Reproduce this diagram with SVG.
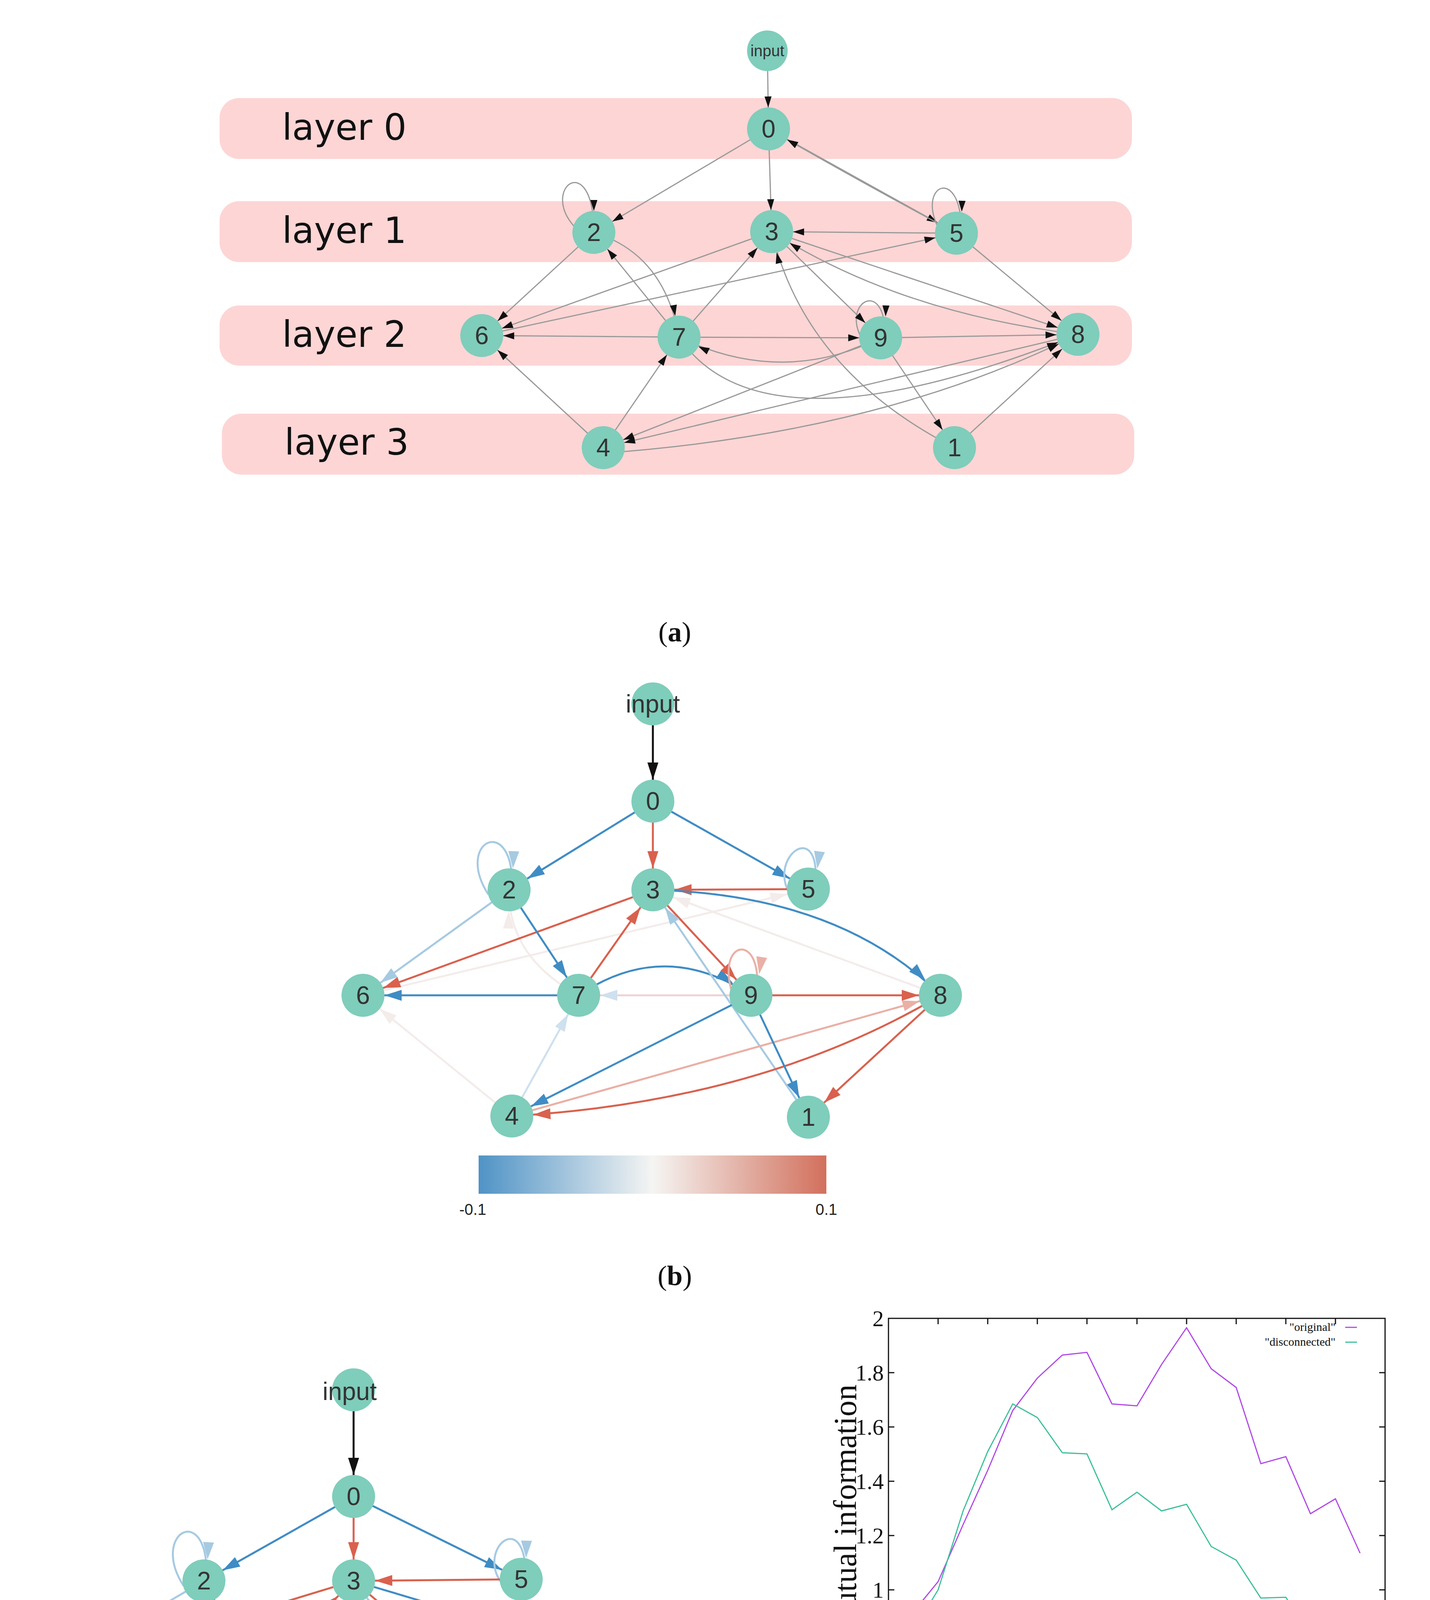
<svg xmlns="http://www.w3.org/2000/svg" width="3660" height="5092" viewBox="0 0 3660 5092">
<style>
.band{fill:#fdd5d5}
.lay{font-family:"DejaVu Sans",sans-serif;font-size:92px;fill:#111}
.nd{fill:#7fcdbb}
.nt{font-family:"Liberation Sans",Arial,sans-serif;font-size:64px;fill:#333;text-anchor:middle;dominant-baseline:central}
.ea{fill:none;stroke:#999;stroke-width:3;marker-end:url(#ka)}
.e{fill:none;stroke-width:5}
.DB{stroke:#3f8cc4;marker-end:url(#mDB)}
.LB{stroke:#a6cae2;marker-end:url(#mLB)}
.VLB{stroke:#cfe0ee;marker-end:url(#mVLB)}
.R{stroke:#d9614e;marker-end:url(#mR)}
.LR{stroke:#eab0a6;marker-end:url(#mLR)}
.F{stroke:#f3ecea;marker-end:url(#mF)}
.K{stroke:#111;marker-end:url(#mK)}
.cap{font-family:"Liberation Serif",serif;font-size:72px;text-anchor:middle;fill:#111}
.sr{font-family:"Liberation Serif",serif;fill:#111}
.cb{font-family:"Liberation Sans",Arial,sans-serif;font-size:40px;text-anchor:middle;fill:#222}
.sc{font-family:"DejaVu Sans",sans-serif;font-size:115px;fill:#000;text-anchor:middle;dominant-baseline:central}
</style>
<defs>
<marker id="ka" markerUnits="userSpaceOnUse" markerWidth="90" markerHeight="20" refX="83" refY="9" orient="auto" overflow="visible"><path d="M0,0L28,9L0,18z" fill="#111"/></marker>
<marker id="mDB" markerUnits="userSpaceOnUse" markerWidth="100" markerHeight="30" refX="99" refY="14" orient="auto" overflow="visible"><path d="M0,0L44,14L0,28z" fill="#3f8cc4"/></marker>
<marker id="mLB" markerUnits="userSpaceOnUse" markerWidth="100" markerHeight="30" refX="99" refY="14" orient="auto" overflow="visible"><path d="M0,0L44,14L0,28z" fill="#a6cae2"/></marker>
<marker id="mVLB" markerUnits="userSpaceOnUse" markerWidth="100" markerHeight="30" refX="99" refY="14" orient="auto" overflow="visible"><path d="M0,0L44,14L0,28z" fill="#cfe0ee"/></marker>
<marker id="mR" markerUnits="userSpaceOnUse" markerWidth="100" markerHeight="30" refX="99" refY="14" orient="auto" overflow="visible"><path d="M0,0L44,14L0,28z" fill="#d9614e"/></marker>
<marker id="mLR" markerUnits="userSpaceOnUse" markerWidth="100" markerHeight="30" refX="99" refY="14" orient="auto" overflow="visible"><path d="M0,0L44,14L0,28z" fill="#eab0a6"/></marker>
<marker id="mF" markerUnits="userSpaceOnUse" markerWidth="100" markerHeight="30" refX="99" refY="14" orient="auto" overflow="visible"><path d="M0,0L44,14L0,28z" fill="#f3ecea"/></marker>
<marker id="mK" markerUnits="userSpaceOnUse" markerWidth="100" markerHeight="30" refX="99" refY="14" orient="auto" overflow="visible"><path d="M0,0L44,14L0,28z" fill="#111"/></marker>
<linearGradient id="cg" x1="0" x2="1" y1="0" y2="0"><stop offset="0" stop-color="#4f93c6"/><stop offset="0.5" stop-color="#f5f5f3"/><stop offset="1" stop-color="#d2705c"/></linearGradient>
</defs>

<g id="bands">
<rect class="band" x="562" y="251" width="2335" height="156" rx="50"/>
<rect class="band" x="562" y="515" width="2335" height="156" rx="50"/>
<rect class="band" x="562" y="782" width="2335" height="154" rx="50"/>
<rect class="band" x="568" y="1059" width="2335" height="156" rx="50"/>
<text class="lay" x="722" y="358">layer 0</text>
<text class="lay" x="722" y="622">layer 1</text>
<text class="lay" x="722" y="888">layer 2</text>
<text class="lay" x="728" y="1164">layer 3</text>
</g>

<g id="connectors">
<g id="conn-a">
<path class="ea" d="M1964,130L1967,330"/>
<path class="ea" d="M1967,330L1520,595"/>
<path class="ea" d="M1967,330L1975,593"/>
<path class="ea" d="M1967,330L2448,597"/>
<path class="ea" d="M2448,597Q2210,470 1967,330"/>
<path class="ea" d="M1470,580C1380,480 1520,380 1520,595"/>
<path class="ea" d="M2405,590C2340,470 2465,420 2460,597"/>
<path class="ea" d="M2448,597L1975,593"/>
<path class="ea" d="M1975,593L1233,859"/>
<path class="ea" d="M1233,859L2448,597"/>
<path class="ea" d="M1520,595L1233,859"/>
<path class="ea" d="M1520,595Q1700,650 1738,863"/>
<path class="ea" d="M1738,863L1520,595"/>
<path class="ea" d="M1738,863L1975,593"/>
<path class="ea" d="M1738,863L1233,859"/>
<path class="ea" d="M1738,863L2254,865"/>
<path class="ea" d="M2254,865Q2000,990 1738,863"/>
<path class="ea" d="M2215,880C2140,780 2270,700 2265,865"/>
<path class="ea" d="M1975,593L2254,865"/>
<path class="ea" d="M1975,593L2759,856"/>
<path class="ea" d="M2759,856Q2300,800 1975,593"/>
<path class="ea" d="M2443,1146Q2060,950 1975,593"/>
<path class="ea" d="M2448,597L2759,856"/>
<path class="ea" d="M2254,865L2759,856"/>
<path class="ea" d="M2254,865L1544,1146"/>
<path class="ea" d="M2254,865L2443,1146"/>
<path class="ea" d="M1544,1146L1233,859"/>
<path class="ea" d="M1544,1146L1738,863"/>
<path class="ea" d="M2759,856L1544,1146"/>
<path class="ea" d="M1738,863Q1950,1180 2759,856"/>
<path class="ea" d="M2443,1146L2759,856"/>
<path class="ea" d="M1544,1160Q2250,1110 2759,856"/>
</g>
<g id="conn-b">
<path class="e F" d="M929,2548L2069,2276"/>
<path class="e F" d="M2407,2548L1671,2278"/>
<path class="e F" d="M1310,2857L929,2548"/>
<path class="e F" d="M1481,2548Q1300,2450 1303,2278"/>
<path class="e F" d="M1671,2051L2069,2276" style="marker-end:none"/>
<path class="e K" d="M1671,1802L1671,2051"/>
<path class="e DB" d="M1671,2051L1303,2278"/>
<path class="e R" d="M1671,2051L1671,2278"/>
<path class="e DB" d="M1671,2051L2069,2276"/>
<path class="e LB" d="M1250,2290C1160,2150 1320,2080 1310,2278"/>
<path class="e LB" d="M2030,2300C1950,2200 2110,2080 2085,2278"/>
<path class="e R" d="M2069,2276L1671,2278"/>
<path class="e R" d="M1671,2278L929,2548"/>
<path class="e LB" d="M1303,2278L929,2548"/>
<path class="e DB" d="M1303,2278L1481,2548"/>
<path class="e R" d="M1481,2548L1671,2278"/>
<path class="e DB" d="M1481,2548L929,2548"/>
<path class="e DB" d="M1481,2548Q1700,2400 1922,2548"/>
<path class="e VLB" d="M1922,2548L1481,2548" style="stroke:#edd3d3"/>
<path class="e R" d="M1671,2278L1922,2548"/>
<path class="e LR" d="M1880,2560C1820,2400 1960,2380 1935,2548"/>
<path class="e DB" d="M1671,2278Q2150,2290 2407,2548"/>
<path class="e LB" d="M2069,2860L1671,2278"/>
<path class="e R" d="M1922,2548L2407,2548"/>
<path class="e LR" d="M1310,2857L2407,2548"/>
<path class="e R" d="M2407,2548Q1950,2820 1310,2857"/>
<path class="e R" d="M2407,2548L2069,2860"/>
<path class="e DB" d="M1922,2548L2069,2860"/>
<path class="e DB" d="M1922,2548L1310,2857"/>
<path class="e VLB" d="M1310,2857L1481,2548"/>
</g>
<g id="conn-c">
<path class="e K" d="M905,3558L905,3831"/>
<path class="e DB" d="M905,3831L522,4047"/>
<path class="e R" d="M905,3831L905,4047"/>
<path class="e DB" d="M905,3831L1334,4043"/>
<path class="e LB" d="M470,4060C380,3920 540,3840 528,4047"/>
<path class="e LB" d="M1290,4060C1210,3970 1350,3850 1345,4043"/>
<path class="e R" d="M1334,4043L905,4047"/>
<path class="e R" d="M905,4047L106,4291"/>
<path class="e LB" d="M522,4047L106,4291"/>
<path class="e DB" d="M522,4047L655,4293"/>
<path class="e R" d="M655,4293L905,4047"/>
<path class="e DB" d="M655,4293L106,4291"/>
<path class="e DB" d="M655,4293Q930,4150 1194,4293"/>
<path class="e VLB" d="M1194,4293L655,4293"/>
<path class="e R" d="M905,4047L1194,4293"/>
<path class="e LR" d="M1150,4300C1090,4150 1210,4150 1205,4293"/>
<path class="e DB" d="M905,4047L1716,4289"/>
<path class="e LB" d="M1338,4601L905,4047"/>
<path class="e R" d="M1194,4293L1716,4289"/>
<path class="e R" d="M655,4293Q1150,4520 1716,4289"/>
<path class="e LR" d="M531,4599L1716,4289"/>
<path class="e R" d="M1716,4289Q1300,4550 531,4599"/>
<path class="e R" d="M1716,4289L1338,4601"/>
<path class="e DB" d="M1194,4293L1338,4601"/>
<path class="e DB" d="M1194,4293L531,4599"/>
<path class="e VLB" d="M531,4599L655,4293"/>
</g>
</g>

<g id="nodes-a">
<g id="a-input"><circle class="nd" cx="1964" cy="130" r="52"/><text class="nt" x="1964" y="130" style="font-size:40px">input</text></g>
<g id="a-0"><circle class="nd" cx="1967" cy="330" r="55"/><text class="nt" x="1967" y="330">0</text></g>
<g id="a-2"><circle class="nd" cx="1520" cy="595" r="55"/><text class="nt" x="1520" y="595">2</text></g>
<g id="a-3"><circle class="nd" cx="1975" cy="593" r="55"/><text class="nt" x="1975" y="593">3</text></g>
<g id="a-5"><circle class="nd" cx="2448" cy="597" r="55"/><text class="nt" x="2448" y="597">5</text></g>
<g id="a-6"><circle class="nd" cx="1233" cy="859" r="55"/><text class="nt" x="1233" y="859">6</text></g>
<g id="a-7"><circle class="nd" cx="1738" cy="863" r="55"/><text class="nt" x="1738" y="863">7</text></g>
<g id="a-9"><circle class="nd" cx="2254" cy="865" r="55"/><text class="nt" x="2254" y="865">9</text></g>
<g id="a-8"><circle class="nd" cx="2759" cy="856" r="55"/><text class="nt" x="2759" y="856">8</text></g>
<g id="a-4"><circle class="nd" cx="1544" cy="1146" r="55"/><text class="nt" x="1544" y="1146">4</text></g>
<g id="a-1"><circle class="nd" cx="2443" cy="1146" r="55"/><text class="nt" x="2443" y="1146">1</text></g>
</g>
<text class="cap" x="1727" y="1642">(<tspan font-weight="bold">a</tspan>)</text>

<g id="nodes-b">
<g id="b-input"><circle class="nd" cx="1671" cy="1802" r="55"/><text class="nt" x="1671" y="1802">input</text></g>
<g id="b-0"><circle class="nd" cx="1671" cy="2051" r="55"/><text class="nt" x="1671" y="2051">0</text></g>
<g id="b-2"><circle class="nd" cx="1303" cy="2278" r="55"/><text class="nt" x="1303" y="2278">2</text></g>
<g id="b-3"><circle class="nd" cx="1671" cy="2278" r="55"/><text class="nt" x="1671" y="2278">3</text></g>
<g id="b-5"><circle class="nd" cx="2069" cy="2276" r="55"/><text class="nt" x="2069" y="2276">5</text></g>
<g id="b-6"><circle class="nd" cx="929" cy="2548" r="55"/><text class="nt" x="929" y="2548">6</text></g>
<g id="b-7"><circle class="nd" cx="1481" cy="2548" r="55"/><text class="nt" x="1481" y="2548">7</text></g>
<g id="b-9"><circle class="nd" cx="1922" cy="2548" r="55"/><text class="nt" x="1922" y="2548">9</text></g>
<g id="b-8"><circle class="nd" cx="2407" cy="2548" r="55"/><text class="nt" x="2407" y="2548">8</text></g>
<g id="b-4"><circle class="nd" cx="1310" cy="2857" r="55"/><text class="nt" x="1310" y="2857">4</text></g>
<g id="b-1"><circle class="nd" cx="2069" cy="2860" r="55"/><text class="nt" x="2069" y="2860">1</text></g>
</g>
<g id="colorbar-b">
<rect x="1225" y="2958" width="890" height="98" fill="url(#cg)"/>
<text class="cb" x="1210" y="3110">-0.1</text>
<text class="cb" x="2115" y="3110">0.1</text>
</g>
<text class="cap" x="1727" y="3290">(<tspan font-weight="bold">b</tspan>)</text>

<g id="nodes-c">
<g id="c-input"><circle class="nd" cx="905" cy="3558" r="55"/><text class="nt" x="895" y="3562">input</text></g>
<g id="c-0"><circle class="nd" cx="905" cy="3831" r="55"/><text class="nt" x="905" y="3831">0</text></g>
<g id="c-2"><circle class="nd" cx="522" cy="4047" r="55"/><text class="nt" x="522" y="4047">2</text></g>
<g id="c-3"><circle class="nd" cx="905" cy="4047" r="55"/><text class="nt" x="905" y="4047">3</text></g>
<g id="c-5"><circle class="nd" cx="1334" cy="4043" r="55"/><text class="nt" x="1334" y="4043">5</text></g>
<g id="c-6"><circle class="nd" cx="106" cy="4291" r="55"/><text class="nt" x="106" y="4291">6</text></g>
<g id="c-7"><circle class="nd" cx="655" cy="4293" r="55"/><text class="nt" x="655" y="4293">7</text></g>
<g id="c-9"><circle class="nd" cx="1194" cy="4293" r="55"/><text class="nt" x="1194" y="4293">9</text></g>
<g id="c-8"><circle class="nd" cx="1716" cy="4289" r="55"/><text class="nt" x="1716" y="4289">8</text></g>
<g id="c-4"><circle class="nd" cx="531" cy="4599" r="55"/><text class="nt" x="531" y="4599">4</text></g>
<g id="c-1"><circle class="nd" cx="1338" cy="4601" r="55"/><text class="nt" x="1338" y="4601">1</text></g>
</g>
<g id="scissors">
<text class="sc" x="784" y="4204" transform="rotate(-60 784 4204)">✂</text>
<text class="sc" x="1116" y="4373" transform="rotate(-40 1116 4373)">✂</text>
<text class="sc" x="998" y="4470" transform="rotate(60 998 4470)">✂</text>
<text class="sc" x="602" y="4506" transform="rotate(40 602 4506)">✂</text>
</g>
<g id="colorbar-c">
<rect x="394" y="4691" width="1068" height="118" fill="url(#cg)"/>
<text class="sr" x="390" y="4885" font-size="52" text-anchor="middle">-0.1</text>
<text class="sr" x="1479" y="4890" font-size="52" text-anchor="middle">0.1</text>
</g>
<text class="cap" x="1727" y="5068">(<tspan font-weight="bold">c</tspan>)</text>

<g id="chart">
<rect x="2274" y="3375" width="1271" height="973" fill="none" stroke="#111" stroke-width="3"/>
<path stroke="#111" stroke-width="3" fill="none" d="M2401,4348v-15M2528,4348v-15M2655,4348v-15M2782,4348v-15M2910,4348v-15M3037,4348v-15M3164,4348v-15M3291,4348v-15M3418,4348v-15M2401,3375v15M2528,3375v15M2655,3375v15M2782,3375v15M2910,3375v15M3037,3375v15M3164,3375v15M3291,3375v15M3418,3375v15M2274,4209h15M2274,4070h15M2274,3931h15M2274,3792h15M2274,3653h15M2274,3514h15M3545,4209h-15M3545,4070h-15M3545,3931h-15M3545,3792h-15M3545,3653h-15M3545,3514h-15"/>
<g class="sr" font-size="58" text-anchor="middle">
<text x="2274" y="4408">0</text><text x="2401" y="4408">2</text><text x="2528" y="4408">4</text><text x="2655" y="4408">6</text><text x="2782" y="4408">8</text><text x="2910" y="4408">10</text><text x="3037" y="4408">12</text><text x="3164" y="4408">14</text><text x="3291" y="4408">16</text><text x="3418" y="4408">18</text><text x="3545" y="4408">20</text>
</g>
<g class="sr" font-size="58" text-anchor="end">
<text x="2262" y="4368">0.6</text><text x="2262" y="4229">0.8</text><text x="2262" y="4090">1</text><text x="2262" y="3951">1.2</text><text x="2262" y="3812">1.4</text><text x="2262" y="3673">1.6</text><text x="2262" y="3534">1.8</text><text x="2262" y="3395">2</text>
</g>
<text class="sr" x="2910" y="4478" font-size="84" text-anchor="middle">time</text>
<text class="sr" x="2163" y="3862" font-size="82" text-anchor="middle" transform="rotate(-90 2163 3862)" dominant-baseline="central">mutual information</text>
<text class="sr" x="3418" y="3407" font-size="30" text-anchor="end">"original"</text>
<path d="M3443,3398h30" stroke="#b048e6" stroke-width="3"/>
<text class="sr" x="3418" y="3445" font-size="30" text-anchor="end">"disconnected"</text>
<path d="M3443,3436h30" stroke="#3cbf9a" stroke-width="3"/>
<polyline fill="none" stroke="#b048e6" stroke-width="3" points="2274,4216 2338,4126 2401,4049 2465,3903 2528,3764 2592,3611 2655,3528 2719,3469 2782,3462 2846,3594 2910,3599 2973,3493 3037,3399 3100,3504 3164,3552 3227,3747 3291,3729 3354,3875 3418,3837 3481,3976"/>
<polyline fill="none" stroke="#3cbf9a" stroke-width="3" points="2274,4237 2338,4174 2401,4070 2465,3868 2528,3716 2592,3594 2655,3629 2719,3719 2782,3722 2846,3865 2910,3820 2973,3868 3037,3851 3100,3959 3164,3994 3227,4091 3291,4089 3354,4185 3418,4181 3481,4258"/>
</g>
</svg>
